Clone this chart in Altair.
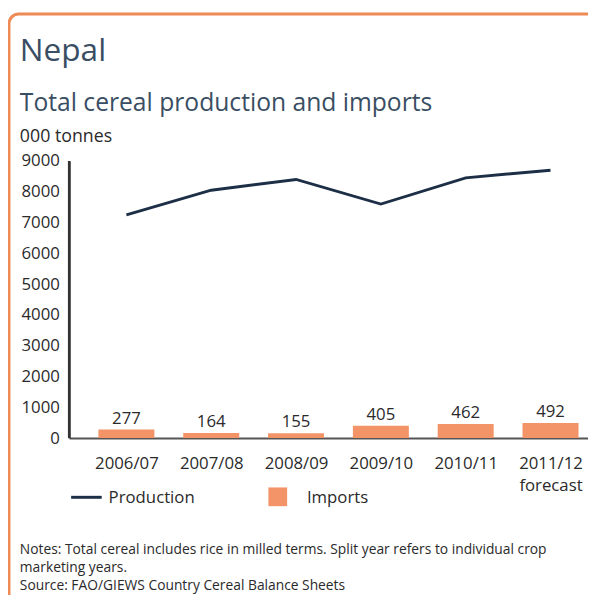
import json
import altair as alt
import pandas as pd

# ---- data ----
categories = ["2006/07", "2007/08", "2008/09", "2009/10", "2010/11", "2011/12"]
label_lines = [["2006/07"], ["2007/08"], ["2008/09"], ["2009/10"], ["2010/11"], ["2011/12", "forecast"]]
y_ticks = [0, 1000, 2000, 3000, 4000, 5000, 6000, 7000, 8000, 9000]
production = [7250, 8050, 8400, 7600, 8450, 8700]
imports = [277, 164, 155, 405, 462, 492]
notes = [
    "Notes: Total cereal includes rice in milled terms. Split year refers to individual crop",
    "marketing years.",
    "Source: FAO/GIEWS Country Cereal Balance Sheets",
]

df = pd.DataFrame({
    "i": list(range(len(categories))),
    "season": categories,
    "production": production,
    "imports": imports,
})

FONT = "Open Sans"
TXT = "#2a2a2a"
TITLE_C = "#3a4e63"
BAR_C = "#F39468"
LINE_C = "#1c2f46"
BORDER_C = "#EE8A55"

W, H = 526, 281
PL, PT, PR, PB = 62, 151, 0, 155
X_MIN, X_MAX = -0.675, 5.442

xscale = alt.Scale(domain=[X_MIN, X_MAX], nice=False, zero=False)
yscale = alt.Scale(domain=[0, 9000], nice=False)

label_expr = json.dumps(label_lines) + "[datum.value]"

x_axis = alt.Axis(values=list(range(len(categories))), labelExpr=label_expr, ticks=False,
                  grid=False, title=None, domainColor="#555555", domainWidth=2,
                  labelFont=FONT, labelFontSize=17, labelColor=TXT, labelPadding=18,
                  labelLineHeight=22, labelOverlap=False)
y_axis = alt.Axis(values=y_ticks, format="d", ticks=False, grid=False, title=None,
                  domain=True, domainColor="#333333", domainWidth=2,
                  labelFont=FONT, labelFontSize=17, labelColor=TXT,
                  labelPadding=10, labelOverlap=False)

base = alt.Chart(df)

bars = base.transform_calculate(lo="datum.i - 0.33", hi="datum.i + 0.33").mark_rect(
    color=BAR_C
).encode(
    x=alt.X("lo:Q", scale=xscale, axis=x_axis),
    x2="hi:Q",
    y=alt.Y("imports:Q", scale=yscale, axis=y_axis),
    y2=alt.datum(0),
)

bar_labels = base.mark_text(font=FONT, fontSize=17, color=TXT, baseline="alphabetic", dy=-6).encode(
    x=alt.X("i:Q", scale=xscale, axis=x_axis),
    y=alt.Y("imports:Q", scale=yscale, axis=y_axis),
    text="imports:Q",
)

line = base.mark_line(color=LINE_C, strokeWidth=3).encode(
    x=alt.X("i:Q", scale=xscale, axis=x_axis),
    y=alt.Y("production:Q", scale=yscale, axis=y_axis),
)

one = pd.DataFrame({"a": [0]})

# vertical axis line drawn through the scales
y_line = alt.Chart(one).mark_rule(color="#333333", strokeWidth=2.5).encode(
    x=alt.datum(X_MIN, scale=xscale, axis=x_axis),
    y=alt.datum(0, scale=yscale, axis=y_axis),
    y2=alt.datum(9000),
)


def txt(s, x, y, size, color=TXT, **kw):
    return alt.Chart(one).mark_text(text=s, font=FONT, fontSize=size, color=color,
                                    align="left", baseline="alphabetic", **kw).encode(
        x=alt.value(x), y=alt.value(y))


border = alt.Chart(one).mark_rect(fill="transparent", stroke=BORDER_C, strokeWidth=3,
                                  cornerRadius=10).encode(
    x=alt.value(-PL + 1), x2=alt.value(W + 60), y=alt.value(-PT + 2), y2=alt.value(H + PB + 40))

title = txt("Nepal", -50, -101, 32, TITLE_C)
subtitle = txt("Total cereal production and imports", -50, -51, 25, TITLE_C)
unit = txt("000 tonnes", -50, -19, 18)

leg_line = alt.Chart(one).mark_rule(color=LINE_C, strokeWidth=3).encode(
    x=alt.value(2), x2=alt.value(33), y=alt.value(341))
leg_line_t = txt("Production", 40, 347, 17)
leg_sq = alt.Chart(one).mark_rect(color=BAR_C).encode(
    x=alt.value(202), x2=alt.value(221), y=alt.value(331), y2=alt.value(350))
leg_sq_t = txt("Imports", 241, 347, 17)

note_layers = [txt(s, -50, 398 + k * 18.5, 14) for k, s in enumerate(notes)]

chart = alt.layer(
    border, bars, bar_labels, line, y_line, title, subtitle, unit,
    leg_line, leg_line_t, leg_sq, leg_sq_t, *note_layers
).properties(
    width=W, height=H,
    padding={"left": PL, "top": PT, "right": PR, "bottom": PB},
    autosize="none",
    background="white",
).configure_view(stroke=None)

chart.save("out.html", embed_options={"renderer": "svg", "actions": False})
